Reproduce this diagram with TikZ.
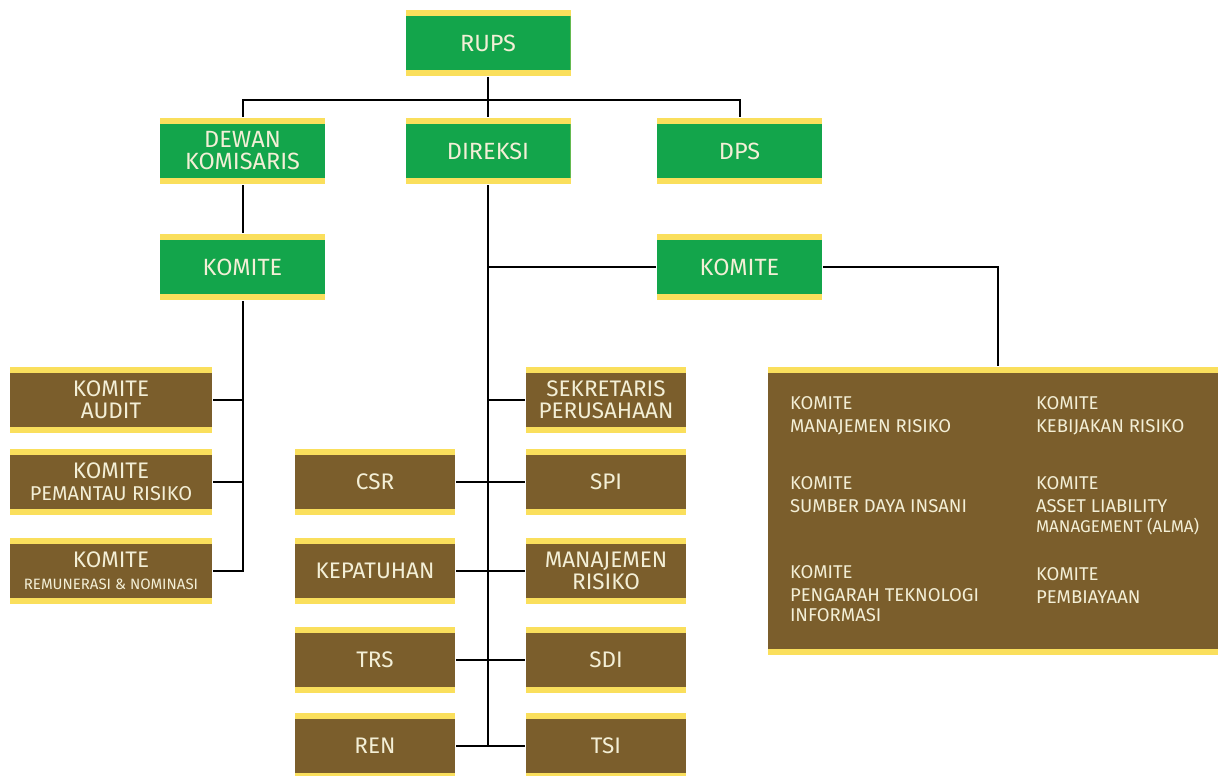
\documentclass[tikz,border=0pt]{standalone}
\usepackage{fontspec}
\setmainfont{Fira Sans}
\usepackage{tikz}
\usetikzlibrary{positioning}
\definecolor{headgreen}{HTML}{13A54B}
\definecolor{bandyellow}{HTML}{FADF5C}
\definecolor{unitbrown}{HTML}{7B5E2C}
\definecolor{paletext}{HTML}{F3EFD6}

\begin{document}
\begin{tikzpicture}[
  x=1pt, y=-1pt,
  line width=2pt,
  every node/.style={inner sep=0pt, align=center, text=paletext},
  band/.style={fill=bandyellow, path picture={\fill[#1]
      ([yshift=-6pt]path picture bounding box.north west) rectangle
      ([yshift=6pt]path picture bounding box.south east);}},
  head/.style={band=headgreen, minimum width=165pt, minimum height=66pt,
    font=\fontsize{23.5}{22}\selectfont},
  unit/.style={band=unitbrown, minimum width=160pt, minimum height=66pt,
    font=\fontsize{22.5}{22}\selectfont},
  komite/.style={anchor=north west, align=left, font=\fontsize{18.5}{23}\selectfont}
]
  \useasboundingbox (0,0) rectangle (1218,776);
  % pimpinan
  \node[head] (rups) at (488,43) {RUPS};
  \node[head] (dewan) at (242.5,151) {DEWAN\\KOMISARIS};
  \node[head] (direksi) at (488,151) {DIREKSI};
  \node[head] (dps) at (739.5,151) {DPS};
  \node[head] (komkom) at (242.5,267) {KOMITE};
  \node[head] (komdir) at (739.5,267) {KOMITE};
  % komite dewan komisaris
  \node[unit, minimum width=202pt] (audit) at (111,400) {KOMITE\\AUDIT};
  \node[unit, minimum width=202pt] (pemantau) at (111,482)
    {KOMITE\\{\fontsize{20}{22}\selectfont PEMANTAU RISIKO}};
  \node[unit, minimum width=202pt] (remun) at (111,571)
    {KOMITE\\{\fontsize{15}{18}\selectfont REMUNERASI \& NOMINASI}};
  % unit kerja direksi
  \node[unit] (sekper) at (606,400) {SEKRETARIS\\PERUSAHAAN};
  \node[unit] (csr) at (375,482) {CSR};
  \node[unit] (spi) at (606,482) {SPI};
  \node[unit] (kepatuhan) at (375,571) {KEPATUHAN};
  \node[unit] (manrisk) at (606,571) {MANAJEMEN\\RISIKO};
  \node[unit] (trs) at (375,660) {TRS};
  \node[unit] (sdi) at (606,660) {SDI};
  \node[unit] (ren) at (375,746) {REN};
  \node[unit] (tsi) at (606,746) {TSI};
  % komite direksi
  \node[band=unitbrown, minimum width=460pt, minimum height=288pt] (komlist) at (998,511) {};
  \node[komite] (km1) at (789,396) {KOMITE\\MANAJEMEN RISIKO};
  \node[komite] (km2) at (789,476) {KOMITE\\SUMBER DAYA INSANI};
  \node[komite] (km3) at (789,565) {KOMITE\\PENGARAH TEKNOLOGI\\[-3pt]INFORMASI};
  \node[komite] (km4) at (1035,396) {KOMITE\\KEBIJAKAN RISIKO};
  \node[komite] (km5) at (1035,476)
    {KOMITE\\ASSET LIABILITY\\[-3pt]{\fontsize{17}{18}\selectfont MANAGEMENT (ALMA)}};
  \node[komite] (km6) at (1035,567) {KOMITE\\PEMBIAYAAN};
  % garis
  \coordinate (bus) at (488,100);
  \draw (rups) -- (direksi);
  \draw (dewan) |- (bus) -| (dps);
  \draw (dewan) -- (komkom);
  \draw (komkom) |- (remun);
  \draw (audit) -- (audit -| komkom);
  \draw (pemantau) -- (pemantau -| komkom);
  \draw (direksi) -- (direksi |- tsi);
  \draw (komdir) -- (komdir -| direksi);
  \draw (sekper) -- (sekper -| direksi);
  \draw (csr) -- (spi);
  \draw (kepatuhan) -- (manrisk);
  \draw (trs) -- (sdi);
  \draw (ren) -- (tsi);
  \draw (komdir) -| (komlist);
\end{tikzpicture}
\end{document}
